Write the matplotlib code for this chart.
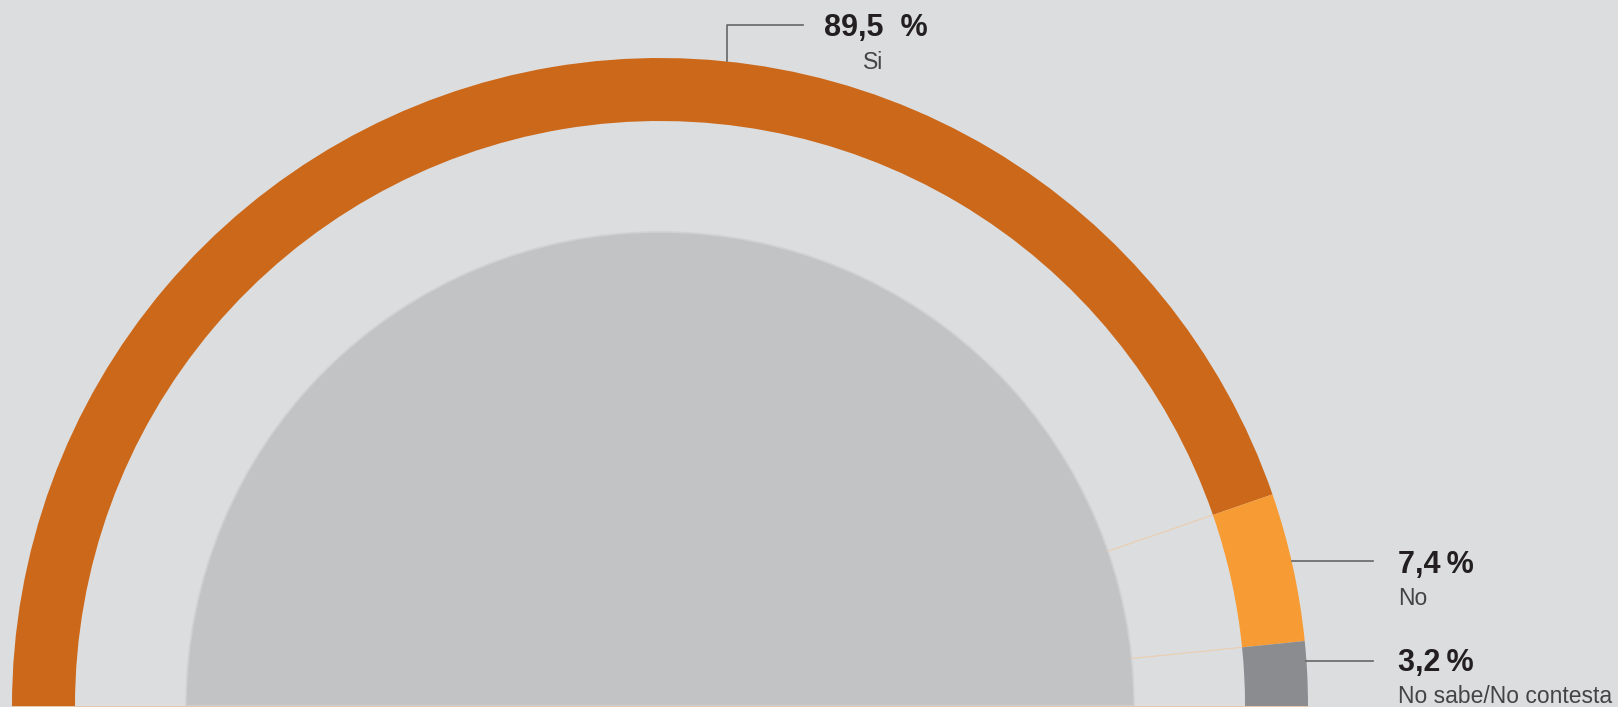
import matplotlib.pyplot as plt
from matplotlib.patches import Wedge
import numpy as np

# survey answers
labels = ['Si', 'No', 'No sabe/No contesta']
values = [89.5, 7.4, 3.2]
value_texts = ['89,5  %', '7,4\u2009%', '3,2\u2009%']
colors = ['#cc6819', '#f79b34', '#8b8c8f']

W, H = 1618, 707
bg = '#dcdddf'

plt.rcParams['font.family'] = ['Liberation Sans', 'DejaVu Sans']

fig = plt.figure(figsize=(W / 100, H / 100), dpi=100)
fig.patch.set_facecolor(bg)
ax = fig.add_axes([0, 0, 1, 1])
ax.set_xlim(0, W)
ax.set_ylim(0, H)
ax.set_aspect('equal')
ax.axis('off')

cx, cy = 660, 1          # centre of the half circle (bottom of the image)
r_out, r_in, r_core = 648, 585, 474

# inner grey half disc
ax.add_patch(Wedge((cx, cy), r_core, 0, 180, facecolor='#c2c3c5',
                   edgecolor='#d0d1d3', linewidth=1.2, zorder=1))

# ring segments, clockwise from the left
total = sum(values)
start = 180.0
bounds = []
for v, c in zip(values, colors):
    span = 180.0 * v / total
    ax.add_patch(Wedge((cx, cy), r_out, start - span, start, width=r_out - r_in,
                       facecolor=c, edgecolor='none', zorder=2))
    start -= span
    bounds.append(start)

# faint separators between core and ring
for a in bounds[:-1]:
    t = np.deg2rad(a)
    ax.plot([cx + r_core * np.cos(t), cx + r_in * np.cos(t)],
            [cy + r_core * np.sin(t), cy + r_in * np.sin(t)],
            color='#eccdb0', lw=0.8, zorder=1)

# baseline
ax.plot([cx - r_out, cx + r_out], [0.5, 0.5], color='#e6c3a3', lw=1.2, zorder=3)

lc = '#666666'
# leader for "Si"
ax.plot([727, 727, 803], [H - 61, H - 25, H - 25], color=lc, lw=1.2, zorder=3)
# leaders for "No" and "NS/NC"
for yd in (561, 661):
    x0 = cx + np.sqrt(r_out ** 2 - (H - yd - cy) ** 2)
    ax.plot([x0, 1373], [H - yd, H - yd], color=lc, lw=1.2, zorder=3)

dark = '#231f20'
grey = '#444444'
ax.text(876, H - 36, value_texts[0], fontsize=22, fontweight='bold', color=dark,
        ha='center', va='baseline')
ax.text(873, H - 69, labels[0], fontsize=16.5, color=grey, ha='center', va='baseline')

ax.text(1398, H - 573, value_texts[1], fontsize=22, fontweight='bold', color=dark,
        ha='left', va='baseline')
ax.text(1398, H - 605, labels[1], fontsize=16.5, color=grey, ha='left', va='baseline')

ax.text(1398, H - 671, value_texts[2], fontsize=22, fontweight='bold', color=dark,
        ha='left', va='baseline')
ax.text(1398, H - 703, labels[2], fontsize=16.5, color=grey, ha='left', va='baseline')

fig.savefig('out.png', dpi=100, facecolor=bg)
